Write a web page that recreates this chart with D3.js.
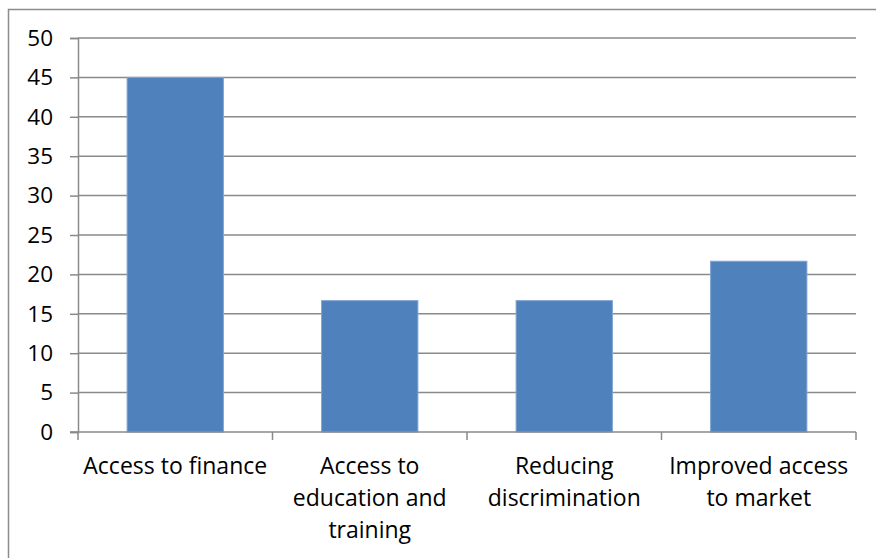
<!DOCTYPE html>
<html>
<head>
<meta charset="utf-8">
<script src="https://cdn.jsdelivr.net/npm/d3@7/dist/d3.min.js"></script>
<style>
  html, body { margin: 0; padding: 0; background: #fff; }
  svg { display: block; }
  text { font-family: "Open Sans", "Noto Sans", sans-serif; fill: #000; }
</style>
</head>
<body>
<svg id="chart" width="876" height="558"></svg>
<script>
// Share of responses per support measure (%)
const categories = [
  ["Access to finance"],
  ["Access to", "education and", "training"],
  ["Reducing", "discrimination"],
  ["Improved access", "to market"]
];
const values = [45, 16.67, 16.67, 21.67];
const yTicks = [0, 5, 10, 15, 20, 25, 30, 35, 40, 45, 50];

const svg = d3.select("#chart");
const W = 876, H = 558;
const plot = { left: 78, right: 856, top: 38, bottom: 432 };

// chart frame (runs off the right and bottom edges)
svg.append("rect")
  .attr("x", 8.5).attr("y", 9.5)
  .attr("width", W).attr("height", H)
  .attr("fill", "none").attr("stroke", "#8c8c8c").attr("stroke-width", 1.5);

const x = d3.scaleBand()
  .domain(d3.range(categories.length))
  .range([plot.left, plot.right])
  .paddingInner(0.505).paddingOuter(0.2525);

const xBounds = d3.scaleLinear()
  .domain([0, categories.length])
  .range([plot.left, plot.right]);

const y = d3.scaleLinear().domain([0, 50]).range([plot.bottom, plot.top]);

// horizontal gridlines
svg.append("g")
  .selectAll("line")
  .data(yTicks.filter(d => d > 0))
  .join("line")
  .attr("x1", plot.left).attr("x2", plot.right)
  .attr("y1", d => y(d)).attr("y2", d => y(d))
  .attr("stroke", "#8a8a8a").attr("stroke-width", 1.5);

// bars
svg.append("g")
  .selectAll("rect")
  .data(values)
  .join("rect")
  .attr("x", (d, i) => x(i))
  .attr("y", d => y(d))
  .attr("width", x.bandwidth())
  .attr("height", d => y(0) - y(d))
  .attr("fill", "#4f81bd")
  .attr("stroke", "#7fa3d3").attr("stroke-width", 1);

// y axis
const yAxis = d3.axisLeft(y).tickValues(yTicks).tickSize(8).tickPadding(17);
const gy = svg.append("g").attr("transform", `translate(${plot.left},0)`).call(yAxis);
gy.select(".domain").attr("stroke", "#8a8a8a").attr("stroke-width", 1.5);
gy.selectAll(".tick line").attr("stroke", "#8a8a8a").attr("stroke-width", 1.5);
gy.selectAll(".tick text").attr("font-size", 22.5)
  .attr("font-family", "'Open Sans', 'Noto Sans', sans-serif");

// x axis with ticks at category boundaries
const gx = svg.append("g").attr("transform", `translate(0,${plot.bottom})`);
gx.append("line")
  .attr("x1", plot.left - 8).attr("x2", plot.right)
  .attr("stroke", "#8a8a8a").attr("stroke-width", 1.5);
gx.selectAll(".bound")
  .data(d3.range(categories.length + 1))
  .join("line")
  .attr("class", "bound")
  .attr("x1", d => xBounds(d)).attr("x2", d => xBounds(d))
  .attr("y1", 0).attr("y2", 8)
  .attr("stroke", "#8a8a8a").attr("stroke-width", 1.5);

// category labels
gx.selectAll(".cat")
  .data(categories)
  .join("text")
  .attr("class", "cat")
  .attr("text-anchor", "middle")
  .attr("font-size", 23)
  .each(function (lines, i) {
    const t = d3.select(this);
    lines.forEach((ln, k) => {
      t.append("tspan")
        .attr("x", x(i) + x.bandwidth() / 2)
        .attr("y", 42 + k * 32)
        .text(ln);
    });
  });
</script>
</body>
</html>
